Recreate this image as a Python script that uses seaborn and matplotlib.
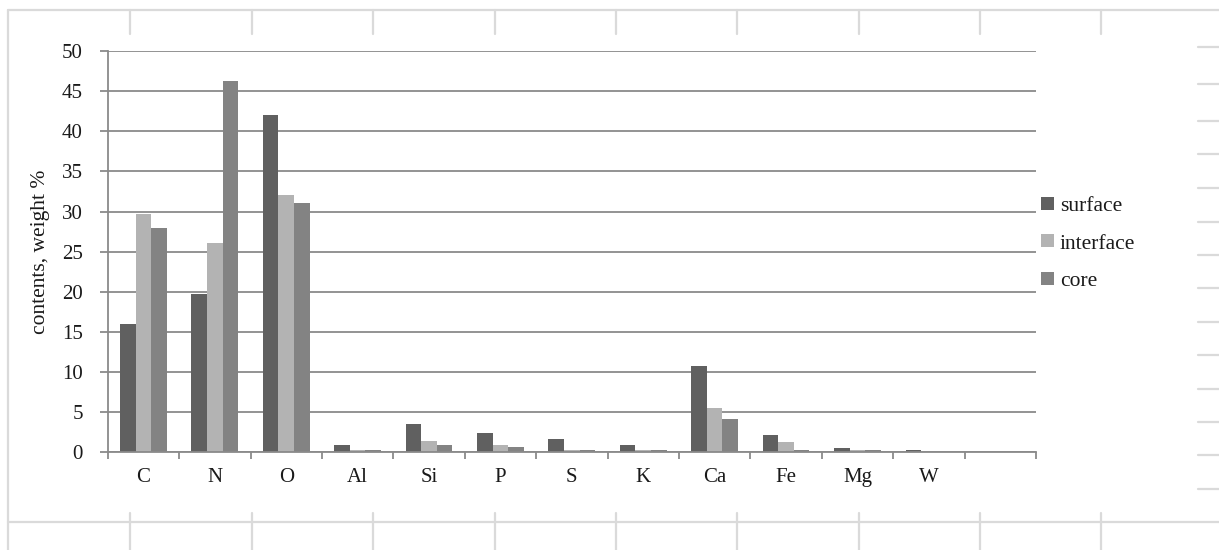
import numpy as np
import pandas as pd
import matplotlib
matplotlib.use("Agg")
import matplotlib.pyplot as plt
import seaborn as sns
from matplotlib.lines import Line2D

# Element contents (weight %) in the three layers
elements = ["C", "N", "O", "Al", "Si", "P", "S", "K", "Ca", "Fe", "Mg", "W"]
surface = [16.0, 19.7, 42.0, 0.9, 3.5, 2.4, 1.6, 0.95, 10.7, 2.2, 0.5, 0.3]
interface = [29.7, 26.1, 32.0, 0.3, 1.35, 0.95, 0.3, 0.25, 5.5, 1.3, 0.3, 0.0]
core = [28.0, 46.2, 31.0, 0.3, 0.95, 0.7, 0.3, 0.3, 4.2, 0.3, 0.3, 0.0]
layers = ["surface", "interface", "core"]
layer_colors = ["#606060", "#b3b3b3", "#838383"]
y_ticks = [0, 5, 10, 15, 20, 25, 30, 35, 40, 45, 50]

df = pd.DataFrame({
    "element": elements * 3,
    "layer": np.repeat(layers, len(elements)),
    "value": surface + interface + core,
})

sns.set_theme(style="white")
plt.rcParams["font.family"] = ["Liberation Serif", "DejaVu Serif"]

W, H = 1219, 550
fig = plt.figure(figsize=(W / 100, H / 100), dpi=100)
fig.patch.set_facecolor("white")


def fx(px):
    return px / W


def fy(py):
    return 1 - py / H


# worksheet cell lines around the chart object
cell = dict(color="#dadada", lw=1.6, transform=fig.transFigure, zorder=0)
fig.add_artist(Line2D([fx(8), fx(8)], [fy(10), fy(550)], **cell))
fig.add_artist(Line2D([fx(8), fx(1219)], [fy(10), fy(10)], **cell))
fig.add_artist(Line2D([fx(8), fx(1219)], [fy(522), fy(522)], **cell))
for cx in [130, 252, 373, 495, 616, 737, 859, 980, 1101]:
    fig.add_artist(Line2D([fx(cx), fx(cx)], [fy(10), fy(34)], **cell))
    fig.add_artist(Line2D([fx(cx), fx(cx)], [fy(513), fy(550)], **cell))
for ry in [47, 84, 121, 154, 188, 222, 255, 288, 322, 355, 389, 422, 455, 489]:
    fig.add_artist(Line2D([fx(1198), fx(1219)], [fy(ry), fy(ry)], **cell))

ax = fig.add_axes([fx(107.7), fy(452.3), fx(1036) - fx(107.7), fy(51) - fy(452.3)])
sns.barplot(data=df, x="element", y="value", hue="layer", order=elements,
            hue_order=layers, palette=layer_colors, saturation=1,
            width=0.655, linewidth=0, errorbar=None, ax=ax)

grey = "#8a8a8a"
ax.set_xlim(-0.5, len(elements) + 0.5)
ax.set_ylim(0, 50)
ax.set_yticks(y_ticks)
ax.set_yticklabels([str(v) for v in y_ticks])
ax.yaxis.grid(True, color=grey, lw=1.3)
ax.xaxis.grid(False)
ax.set_axisbelow(True)
for side in ["top", "right"]:
    ax.spines[side].set_visible(False)
for side in ["left", "bottom"]:
    ax.spines[side].set_color(grey)
    ax.spines[side].set_linewidth(1.3)

ax.tick_params(axis="y", which="major", direction="out", length=5.8, width=1.3,
               color=grey, pad=12, labelsize=15, labelcolor="#1a1a1a", left=True)
ax.set_xticks(range(len(elements)))
ax.set_xticklabels(elements)
ax.set_xticks(np.arange(-0.5, len(elements) + 1, 1), minor=True)
ax.tick_params(axis="x", which="major", length=0, pad=11, labelsize=15,
               labelcolor="#1a1a1a")
ax.tick_params(axis="x", which="minor", direction="out", length=5, width=1.3,
               color=grey, bottom=True)

ax.set_xlabel("")
ax.set_ylabel("contents, weight %", fontsize=15.5, color="#1a1a1a")
ax.yaxis.set_label_coords(-0.062, 0.5)

handles, labels = ax.get_legend_handles_labels()
ax.legend(handles, labels, loc="center left", bbox_to_anchor=(fx(1041), fy(244)),
          bbox_transform=fig.transFigure, frameon=False, fontsize=15.5,
          handlelength=0.6, handleheight=0.55, handletextpad=0.28,
          labelspacing=0.86, borderpad=0, borderaxespad=0,
          labelcolor="#1a1a1a")

fig.savefig("out.png", dpi=100)
